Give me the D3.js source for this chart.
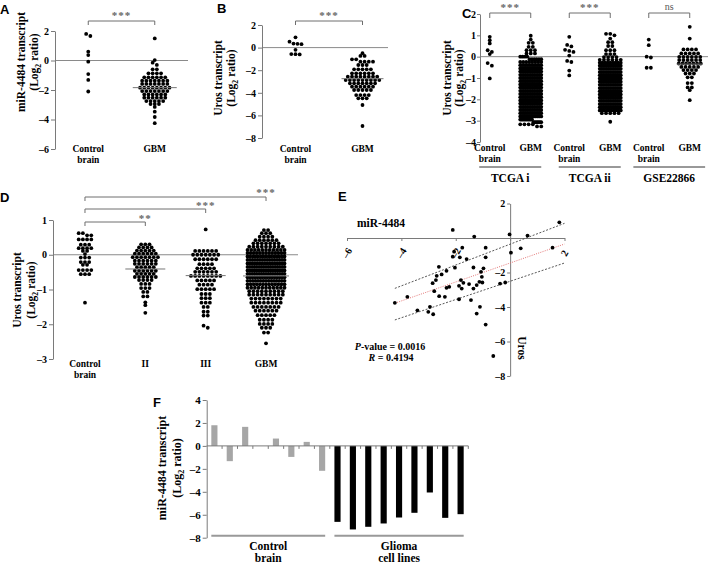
<!DOCTYPE html>
<html><head><meta charset="utf-8">
<script src="https://cdn.jsdelivr.net/npm/d3@7"></script>
<style>
body{margin:0;background:#fff}
svg text{font-family:"Liberation Serif","Times New Roman",serif;font-weight:bold;fill:#000}
svg text.letter{font-family:"Liberation Sans",Arial,sans-serif}
</style>
</head><body>
<svg id="c" width="709" height="567"></svg>
<script>
// ---------------- DATA ----------------
const groupsAB = ["Control brain", "GBM"];
// Panel A: miR-4484 (log2 ratio)
const aControl = [1.8, 1.66, 0.6, 0.37, -0.08, -0.92, -1.32, -2.1];
const aGBM = [[1.5,1],[0.03,1],[-0.15,1],[-0.3,1],[-0.6,2],[-0.87,4],[-1.14,6],[-1.37,7],[-1.59,7],[-1.84,8],[-2.07,7],[-2.3,6],[-2.52,6],[-2.75,5],[-2.95,3],[-3.15,1],[-3.47,1],[-3.83,1],[-4.25,1]];
const aMedianGBM = -1.84;
const aTicks = [2, 0, -2, -4, -6];
// Panel B: Uros
const bControl = [0.91, 0.52, 0.36, 0.33, 0.3, -0.2, -0.57, -0.58, -0.6];
const bGBM = [[-0.5,1],[-0.74,2],[-1.04,2],[-1.25,4],[-1.54,3],[-1.92,5],[-2.28,6],[-2.57,8],[-2.87,9],[-3.16,7],[-3.46,6],[-3.75,5],[-4.2,4],[-4.49,3],[-5.08,1],[-6.94,1]];
const bMedianGBM = -2.75;
const bTicks = [2, 0, -2, -4, -6, -8];
// Panel C: Uros in three datasets
const cDatasets = ["TCGA i", "TCGA ii", "GSE22866"];
const cTcga1Control = [0.93, 0.77, 0.62, 0.3, 0.22, 0.12, -0.3, -0.42, -1.02];
const cTcga1GBM = [[0.98,1],[0.8,1],[0.65,2],[0.46,2],[0.3,3],[0.15,3],[0.0,4],[-0.12,6],[-0.25,8],
  [-0.4,12],[-0.55,13],[-0.7,13],[-0.85,13],[-1.0,13],[-1.15,13],[-1.3,13],[-1.45,13],[-1.6,13],[-1.75,13],
  [-1.9,13],[-2.05,13],[-2.2,13],[-2.35,13],[-2.5,13],[-2.65,13],[-2.8,12],[-2.95,10],[-3.07,7],[-3.17,4],[-3.27,2]];
const cTcga2Control = [0.93, 0.55, 0.48, 0.32, 0.27, 0.22, 0.05, -0.2, -0.25, -0.65, -0.88];
const cTcga2GBM = [[1.07,2],[1.0,1],[0.85,1],[0.68,2],[0.5,2],[0.3,3],[0.12,3],[-0.02,4],[-0.15,6],[-0.28,9],
  [-0.42,12],[-0.57,13],[-0.72,13],[-0.87,13],[-1.02,13],[-1.17,13],[-1.32,13],[-1.47,13],[-1.62,13],[-1.77,13],
  [-1.92,13],[-2.07,13],[-2.22,13],[-2.37,12],[-2.52,10],[-2.65,5],[-3.05,1]];
const cGseControl = [0.8, 0.54, 0.0, -0.04, -0.52, -0.52];
const cGseGBM = [[1.4,1],[0.85,1],[0.34,4],[0.15,5],[-0.01,6],[-0.16,6],[-0.32,7],[-0.48,5],[-0.63,4],[-0.79,3],[-0.97,2],[-1.24,2],[-1.44,2],[-1.57,1],[-2.04,1]];
const cMedianGse = -0.35;
const cSignif = ["***", "***", "ns"];
const cTicks = [2, 1, 0, -1, -2, -3, -4];
// Panel D: Uros by grade
const dGroups = ["Control brain", "II", "III", "GBM"];
const dControl = [[0.62,2],[0.56,2],[0.44,4],[0.29,3],[0.19,4],[0.11,2],[0.02,1],[-0.08,3],[-0.21,3],[-0.29,2],[-0.44,4],[-0.56,3],[-1.38,1]];
const dII = [[0.3,3],[0.21,4],[0.12,5],[0.03,6],[-0.07,7],[-0.17,6],[-0.26,6],[-0.36,5],[-0.46,6],[-0.55,5],[-0.64,6],[-0.73,4],[-0.84,3],[-0.96,3],[-1.07,2],[-1.2,2],[-1.37,1],[-1.45,1],[-1.67,1]];
const dIII = [[0.73,1],[0.11,6],[0.0,7],[-0.13,6],[-0.27,4],[-0.39,5],[-0.49,6],[-0.61,8],[-0.74,5],[-0.86,4],[-0.99,5],[-1.13,3],[-1.25,3],[-1.38,3],[-1.5,2],[-1.64,2],[-1.75,2],[-2.04,1],[-2.1,1]];
const dGBM = [[0.71,2],[0.62,3],[0.52,4],[0.42,6],[0.33,7],[0.23,9],[0.14,11],[0.05,13],[-0.05,15],[-0.15,16],[-0.25,16],[-0.35,17],[-0.45,17],[-0.55,17],[-0.65,16],[-0.75,15],[-0.85,13],[-0.95,11],[-1.05,9],[-1.15,9],[-1.26,8],[-1.38,8],[-1.5,7],[-1.61,6],[-1.74,5],[-1.87,4],[-1.99,4],[-2.1,3],[-2.24,2],[-2.55,1]];
const dMedians = [null, -0.41, -0.6, -0.61];
const dComparisons = [["GBM","***"],["III","***"],["II","**"]];
const dTicks = [1, 0, -1, -2, -3];
// Panel E: correlation miR-4484 (x) vs Uros (y)
const eX = [-2.11,-1.32,-0.02,0.64,1.56,0.39,0.03,-1.76,-0.9,-2.06,-2.11,-1.85,-1.6,-0.9,-2.03,-1.35,-2.62,-2.34,-2.52,-2.7,-2.73,-2.85,-2.79,-2.61,-2.4,-2.34,-2.24,-1.88,-1.81,-1.72,-1.78,-1.51,-1.35,-1.23,-1.13,-1.04,-1.07,-0.98,-1.02,-0.37,-0.18,-1.88,-1.44,-1.11,-1.23,-0.9,-2.95,-3.01,-2.83,-3.41,-3.78,-4.24,-0.62,1.81];
const eY = [0.47,0.08,0.21,0.14,-0.56,-0.6,-0.85,-0.56,-0.56,-0.79,-1.08,-1.12,-1.22,-1.12,-1.72,-1.71,-1.67,-1.9,-2.11,-2.19,-2.44,-2.62,-3.08,-3.37,-3.41,-2.89,-2.83,-2.77,-2.44,-2.6,-2.93,-2.67,-2.93,-2.73,-2.54,-2.25,-1.96,-1.76,-2.58,-2.64,-2.58,-3.55,-3.6,-3.99,-4.38,-5.02,-3.99,-4.28,-4.42,-4.19,-3.41,-3.76,-6.84,0.91];
const eFitX = [-4.24, 2];
const eFitY = [-3.78, -0.35];
const eUpperY = [-2.92, 0.85];
const eLowerY = [-4.75, -1.45];
const eXTicks = [-6, -4, -2, 0, 2];
const eYTicks = [2, 0, -2, -4, -6, -8];
// Panel F: miR-4484 in control brains and glioma cell lines
const fControl = [1.8, -1.33, 1.66, 0, 0.64, -0.96, 0.35, -2.17];
const fGlioma = [-6.62, -7.28, -7.05, -6.76, -6.24, -5.83, -4.06, -6.27, -5.95];
const fTicks = [4, 2, 0, -2, -4, -6, -8];

// ---------------- HELPERS ----------------
const svg = d3.select('#c');
const AX = '#7a7a7a', ZERO = '#8a8a8a', BR = '#6e6e6e';
const fmt = d => d < 0 ? '\u2013' + Math.abs(d) : String(d);
const expand = pairs => pairs.flatMap(([v, c]) => Array(c).fill(v));

function yAxis(scale, x, ticks, fs, fmtF, tSize, tPad) {
  const s = svg.append('g').attr('transform', `translate(${x},0)`)
    .call(d3.axisLeft(scale).tickValues(ticks).tickSize(tSize || 4).tickSizeOuter(0)
      .tickPadding(tPad === undefined ? 2 : tPad).tickFormat(fmtF || fmt));
  s.select('.domain').attr('stroke', AX);
  s.selectAll('.tick line').attr('stroke', AX);
  s.selectAll('.tick text').style('font-size', fs + 'px');
  return s;
}
function hLine(x1, x2, y, color, w) {
  svg.append('line').attr('x1', x1).attr('x2', x2).attr('y1', y).attr('y2', y)
    .attr('stroke', color).attr('stroke-width', w || 1);
}
function yTitle(xc1, xc2, yc, line1, fs) {
  const g = svg.append('g');
  g.append('text').attr('transform', `translate(${xc1},${yc}) rotate(-90)`)
    .attr('text-anchor', 'middle').attr('dy', '0.35em').style('font-size', fs + 'px').text(line1);
  const t = g.append('text').attr('transform', `translate(${xc2},${yc}) rotate(-90)`)
    .attr('text-anchor', 'middle').attr('dy', '0.35em').style('font-size', fs + 'px');
  t.append('tspan').text('(Log');
  t.append('tspan').attr('dy', 3).style('font-size', (fs * 0.68) + 'px').text('2');
  t.append('tspan').attr('dy', -3).text(' ratio)');
}
function label(x, y, txt, fs, anchor) {
  return svg.append('text').attr('x', x).attr('y', y).attr('text-anchor', anchor || 'middle')
    .style('font-size', fs + 'px').text(txt);
}
function catLabel(x, y, name, fs) {
  const parts = name.split(' ');
  parts.forEach((p, i) => label(x, y + i * 11.5, p, fs));
}
function letter(x, y, t) {
  svg.append('text').attr('class', 'letter').attr('x', x).attr('y', y).style('font-size', '13px').text(t);
}
function bracket(x1, x2, y, drop, txt, tx, ty, fs, color) {
  svg.append('path').attr('d', `M${x1},${y + drop}V${y}H${x2}V${y + drop}`)
    .attr('fill', 'none').attr('stroke', BR).attr('stroke-width', 1);
  svg.append('text').attr('x', tx).attr('y', ty).attr('text-anchor', 'middle')
    .style('font-size', fs + 'px').style('letter-spacing', txt === 'ns' ? '0px' : '1px')
    .style('font-weight', txt === 'ns' ? 'normal' : 'bold')
    .style('fill', color || '#666').text(txt);
}
function rowLayout(values, y, cx, sp, maxW, rowH) {
  const pts = values.map(v => ({ v, py: y(v) })).sort((a, b) => a.py - b.py);
  const rows = [];
  let cur = null;
  pts.forEach(p => {
    if (!cur || p.py - cur.y0 > rowH) { cur = { y0: p.py, pts: [] }; rows.push(cur); }
    cur.pts.push(p);
  });
  rows.forEach(r => {
    const n = r.pts.length;
    const s = n > 1 ? Math.min(sp, maxW / (n - 1)) : 0;
    r.pts.forEach((p, i) => { p.px = cx + (i - (n - 1) / 2) * s; });
  });
  return pts;
}
function dots(values, y, cx, maxW, r) {
  const pts = rowLayout(values, y, cx, 4.2, maxW, 2.6);
  svg.append('g').selectAll('circle').data(pts).join('circle')
    .attr('cx', d => d.px).attr('cy', d => d.py).attr('r', r || 1.9).attr('fill', '#000');
}
function median(cx, y, v, half) {
  hLine(cx - half, cx + half, y(v), '#777', 1);
}

// ---------------- PANEL A ----------------
{
  const y = d3.scaleLinear().domain([2, -6]).range([31, 149]);
  const x = d3.scalePoint().domain(groupsAB).range([55, 188]).padding(0.5);
  hLine(55, 188, y(0), ZERO);
  yAxis(y, 55, aTicks, 10);
  dots(aControl, y, x("Control brain"), 12);
  dots(expand(aGBM), y, x("GBM"), 30);
  median(x("GBM"), y, aMedianGBM, 22);
  bracket(x("Control brain"), x("GBM"), 21, 4, '***', (x("Control brain") + x("GBM")) / 2, 18.5, 11);
  yTitle(21, 34, 62, 'miR-4484 transcript', 11.5);
  groupsAB.forEach(g => catLabel(x(g), 151.5, g, 9.5));
  letter(0, 14, 'A');
}
// ---------------- PANEL B ----------------
{
  const y = d3.scaleLinear().domain([2, -8]).range([25, 138]);
  const x = d3.scalePoint().domain(groupsAB).range([262, 396]).padding(0.5);
  hLine(262, 388, y(0), ZERO);
  yAxis(y, 262, bTicks, 10);
  dots(bControl, y, x("Control brain"), 12);
  dots(expand(bGBM), y, x("GBM"), 36);
  median(x("GBM"), y, bMedianGBM, 21);
  bracket(x("Control brain"), x("GBM"), 21, 4, '***', (x("Control brain") + x("GBM")) / 2, 18.5, 11);
  yTitle(218, 231, 78, 'Uros transcript', 11.5);
  groupsAB.forEach(g => catLabel(x(g), 151.5, g, 9.5));
  letter(217, 13, 'B');
}
// ---------------- PANEL C ----------------
{
  const y = d3.scaleLinear().domain([2, -4]).range([14, 142]);
  const xg = d3.scaleBand().domain(cDatasets).range([470.5, 709]);
  const xi = d3.scalePoint().domain(groupsAB).range([0, xg.bandwidth()]).padding(0.47);
  const X = (ds, g) => xg(ds) + xi(g);
  hLine(480, 708, y(0), ZERO);
  yAxis(y, 480, cTicks, 10, null, 3, 1);
  const ctrl = [cTcga1Control, cTcga2Control, cGseControl];
  const gbm = [expand(cTcga1GBM), expand(cTcga2GBM), expand(cGseGBM)];
  const gbmW = [21, 21, 22];
  cDatasets.forEach((ds, i) => {
    dots(ctrl[i], y, X(ds, "Control brain"), 12);
    dots(gbm[i], y, X(ds, "GBM"), gbmW[i]);
    const x1 = X(ds, "Control brain"), x2 = X(ds, "GBM");
    const ns = cSignif[i] === 'ns';
    bracket(x1, x2, 13, 5, cSignif[i], (x1 + x2) / 2, ns ? 9.5 : 11, ns ? 10 : 11, ns ? '#555' : '#666');
    groupsAB.forEach(g => catLabel(X(ds, g), 150.5, g, 9.5));
    const t = label(xg(ds) + xg.bandwidth() / 2, 182, ds, 11.5);
    const half = Math.max(31, t.node().getComputedTextLength() / 2 + 10);
    const cx = xg(ds) + xg.bandwidth() / 2;
    hLine(cx - half, cx + half, 167, '#333', 1);
  });
  median(X("GSE22866", "GBM"), y, cMedianGse, 13);
  yTitle(447, 459, 78, 'Uros transcript', 11.5);
  letter(462, 18, 'C');
}
// ---------------- PANEL D ----------------
{
  const y = d3.scaleLinear().domain([1, -3]).range([220, 359]);
  const x = d3.scalePoint().domain(dGroups).range([53, 298]).padding(0.53);
  hLine(53, 298, y(0), ZERO);
  yAxis(y, 53, dTicks, 10);
  const data = [dControl, dII, dIII, dGBM];
  const widths = [20, 33, 33, 37];
  dGroups.forEach((g, i) => {
    dots(expand(data[i]), y, x(g), widths[i]);
    if (dMedians[i] !== null) median(x(g), y, dMedians[i], i === 3 ? 23 : 20);
    catLabel(x(g), 366.5, g, 9.5);
  });
  const by = [197, 209, 222];
  dComparisons.forEach(([g, s], i) => {
    bracket(x("Control brain"), x(g), by[i], 4, s, x(g), by[i] - (i === 0 ? 1.5 : 0.5), 11);
  });
  yTitle(17, 31, 290, 'Uros transcript', 11.5);
  letter(0, 202, 'D');
}
// ---------------- PANEL E ----------------
{
  const x = d3.scaleLinear().domain([-6, 2]).range([347, 564.5]);
  const y = d3.scaleLinear().domain([2, -8]).range([203.5, 376]);
  const hx = svg.append('g').attr('transform', `translate(0,${y(0)})`)
    .call(d3.axisBottom(x).tickValues(eXTicks).tickSize(3).tickSizeOuter(0).tickFormat(''));
  hx.select('.domain').attr('stroke', AX);
  hx.selectAll('.tick line').attr('stroke', AX);
  eXTicks.filter(d => d !== 0).forEach(d => {
    svg.append('text').attr('transform', `translate(${x(d)},${y(0) + 15}) rotate(-60)`)
      .attr('text-anchor', 'middle').attr('dy', '0.35em').style('font-size', '10px').text(fmt(d));
  });
  yAxis(y, x(0), eYTicks, 10, d => d === 0 ? '' : fmt(d), 3, 2);
  const ln = d3.line().x(d => x(d[0])).y(d => y(d[1]));
  svg.append('path').attr('d', ln(eFitX.map((v, i) => [v, eUpperY[i]]))).attr('fill', 'none')
    .attr('stroke', '#444').attr('stroke-width', 0.9).attr('stroke-dasharray', '2,1.6');
  svg.append('path').attr('d', ln(eFitX.map((v, i) => [v, eLowerY[i]]))).attr('fill', 'none')
    .attr('stroke', '#444').attr('stroke-width', 0.9).attr('stroke-dasharray', '2,1.6');
  svg.append('path').attr('d', ln(eFitX.map((v, i) => [v, eFitY[i]]))).attr('fill', 'none')
    .attr('stroke', '#e06666').attr('stroke-width', 0.9).attr('stroke-dasharray', '1,1.3');
  svg.append('g').selectAll('circle').data(eX.map((v, i) => [v, eY[i]])).join('circle')
    .attr('cx', d => x(d[0])).attr('cy', d => y(d[1])).attr('r', 1.9).attr('fill', '#000');
  label(357, 227, 'miR-4484', 11.5, 'start');
  svg.append('text').attr('transform', `translate(518,348) rotate(90)`).attr('text-anchor', 'middle')
    .style('font-size', '11.5px').text('Uros');
  const p = svg.append('text').attr('x', 390).attr('y', 350).attr('text-anchor', 'middle').style('font-size', '10px');
  p.append('tspan').style('font-style', 'italic').text('P');
  p.append('tspan').text('-value = 0.0016');
  const r = svg.append('text').attr('x', 391).attr('y', 361).attr('text-anchor', 'middle').style('font-size', '10px');
  r.append('tspan').style('font-style', 'italic').text('R');
  r.append('tspan').text(' = 0.4194');
  letter(338, 201, 'E');
}
// ---------------- PANEL F ----------------
{
  const vals = fControl.concat(fGlioma);
  const idx = vals.map((_, i) => i);
  const y = d3.scaleLinear().domain([4, -8]).range([400, 537.7]);
  const x = d3.scaleBand().domain(idx).range([206.7, 468.3]).paddingInner(0.6).paddingOuter(0.3);
  yAxis(y, 206.7, fTicks, 11);
  svg.append('g').selectAll('rect').data(idx).join('rect')
    .attr('x', i => x(i)).attr('width', x.bandwidth())
    .attr('y', i => y(Math.max(0, vals[i]))).attr('height', i => Math.abs(y(vals[i]) - y(0)))
    .attr('fill', i => i < fControl.length ? '#a6a6a6' : '#000');
  hLine(206.7, 468.3, y(0), AX);
  const step = x.step();
  svg.append('g').selectAll('line').data(d3.range(1, vals.length + 1)).join('line')
    .attr('x1', i => x(0) - x.paddingOuter() * step + i * step)
    .attr('x2', i => x(0) - x.paddingOuter() * step + i * step)
    .attr('y1', y(0)).attr('y2', y(0) + 3).attr('stroke', AX);
  const c0 = x(0), c1 = x(fControl.length - 1) + x.bandwidth();
  const g0 = x(fControl.length), g1 = x(vals.length - 1) + x.bandwidth();
  hLine(c0, c1, 535.7, '#999', 2);
  hLine(g0, g1, 535.7, '#999', 2);
  catLabel((c0 + c1) / 2, 550, 'Control brain', 11.5);
  label((g0 + g1) / 2, 550, 'Glioma', 11.5);
  label((g0 + g1) / 2, 561.5, 'cell lines', 11.5);
  yTitle(161.5, 176.5, 468, 'miR-4484 transcript', 12);
  letter(153, 407, 'F');
}
</script>
</body></html>
